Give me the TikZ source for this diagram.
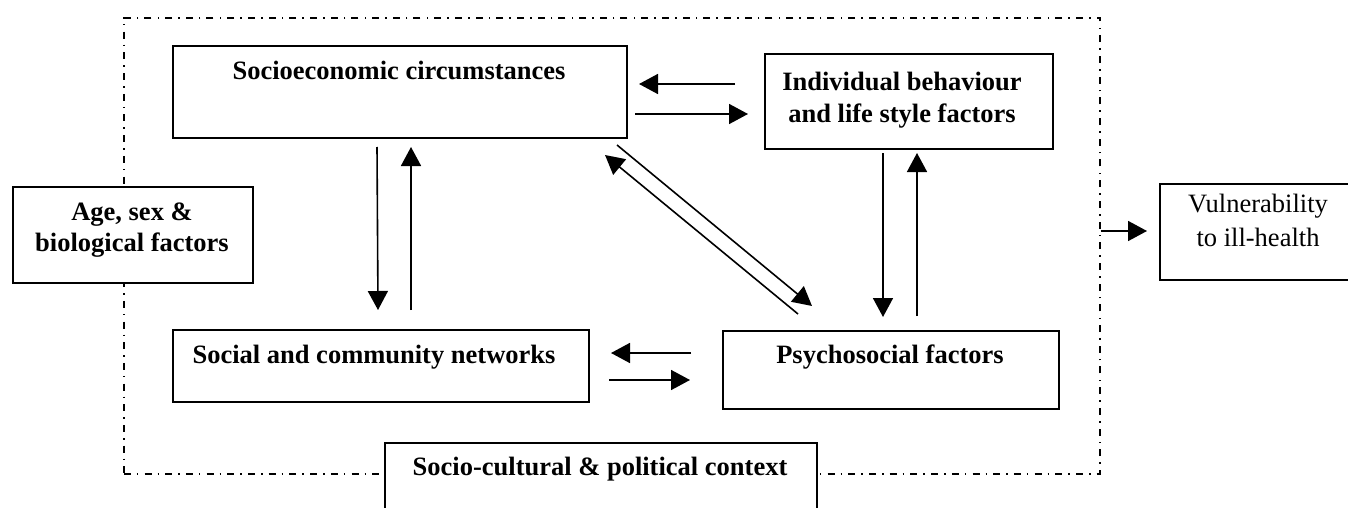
\documentclass[tikz,border=0pt]{standalone}
\usepackage{fontspec}
\setmainfont{Liberation Serif}
\usetikzlibrary{arrows.meta}
\begin{document}
\begin{tikzpicture}[x=1pt,y=-1pt,
  box/.style={draw, line width=2pt, fill=white, inner sep=0pt, anchor=north west},
  lbl/.style={font=\fontsize{26.5}{31}\selectfont\bfseries, anchor=base, inner sep=0pt},
  lblr/.style={font=\fontsize{26.5}{31}\selectfont, anchor=base, inner sep=0pt},
  arr/.style={line width=1.6pt, -{Triangle[length=19pt,width=20pt]}},
  framestyle/.style={draw, line width=1.6pt, dash pattern=on 7pt off 6pt on 1.5pt off 6.2pt, inner sep=0pt, anchor=north west}]
\clip (0,0) rectangle (1348,508);
% outer dash-dot frame
\node[framestyle, minimum width=976pt, minimum height=456pt] (frm) at (123,17) {};
% boxes
\node[box, minimum width=454pt, minimum height=92pt] (socio) at (172,45) {};
\node[box, minimum width=288pt, minimum height=95pt] (indiv) at (764,53) {};
\node[box, minimum width=240pt, minimum height=96pt] (age) at (12,186) {};
\node[box, minimum width=200pt, minimum height=96pt] (vuln) at (1159,183) {};
\node[box, minimum width=416pt, minimum height=72pt] (social) at (172,329) {};
\node[box, minimum width=336pt, minimum height=78pt] (psych) at (722,330) {};
\node[box, minimum width=432pt, minimum height=100pt] (context) at (384,442) {};
% labels
\node[lbl] (socioT) at (399,80) {Socioeconomic circumstances};
\node[lbl] (indivT1) at (902,91) {Individual behaviour};
\node[lbl] (indivT2) at (902,122) {and life style factors};
\node[lbl] (ageT1) at (132,220) {Age, sex \&};
\node[lbl] (ageT2) at (132,251) {biological factors};
\node[lblr] (vulnT1) at (1258,212) {Vulnerability};
\node[lblr] (vulnT2) at (1258,246) {to ill-health};
\node[lbl] (socialT) at (374,363) {Social and community networks};
\node[lbl] (psychT) at (890,363) {Psychosocial factors};
\node[lbl] (contextT) at (600,475) {Socio-cultural \& political context};
% arrow end points
\coordinate (a1s) at (735,84);  \coordinate (a1e) at (639,84);
\coordinate (a2s) at (635,114); \coordinate (a2e) at (748,114);
\coordinate (a3s) at (377,147); \coordinate (a3e) at (378,310);
\coordinate (a4s) at (411,310); \coordinate (a4e) at (411,147);
\coordinate (a5s) at (883,153); \coordinate (a5e) at (883,317);
\coordinate (a6s) at (917,316); \coordinate (a6e) at (917,153);
\coordinate (a7s) at (617,145); \coordinate (a7e) at (812,306);
\coordinate (a8s) at (798,314); \coordinate (a8e) at (605,155);
\coordinate (a9s) at (691,353); \coordinate (a9e) at (611,353);
\coordinate (a10s) at (609,380); \coordinate (a10e) at (690,380);
\coordinate (a11e) at (1147,231);
% arrows
\draw[arr] (a1s) -- (a1e);
\draw[arr] (a2s) -- (a2e);
\draw[arr] (a3s) -- (a3e);
\draw[arr] (a4s) -- (a4e);
\draw[arr] (a5s) -- (a5e);
\draw[arr] (a6s) -- (a6e);
\draw[arr] (a7s) -- (a7e);
\draw[arr] (a8s) -- (a8e);
\draw[arr] (a9s) -- (a9e);
\draw[arr] (a10s) -- (a10e);
\draw[arr] (frm.east |- a11e) -- (a11e);
\end{tikzpicture}
\end{document}
